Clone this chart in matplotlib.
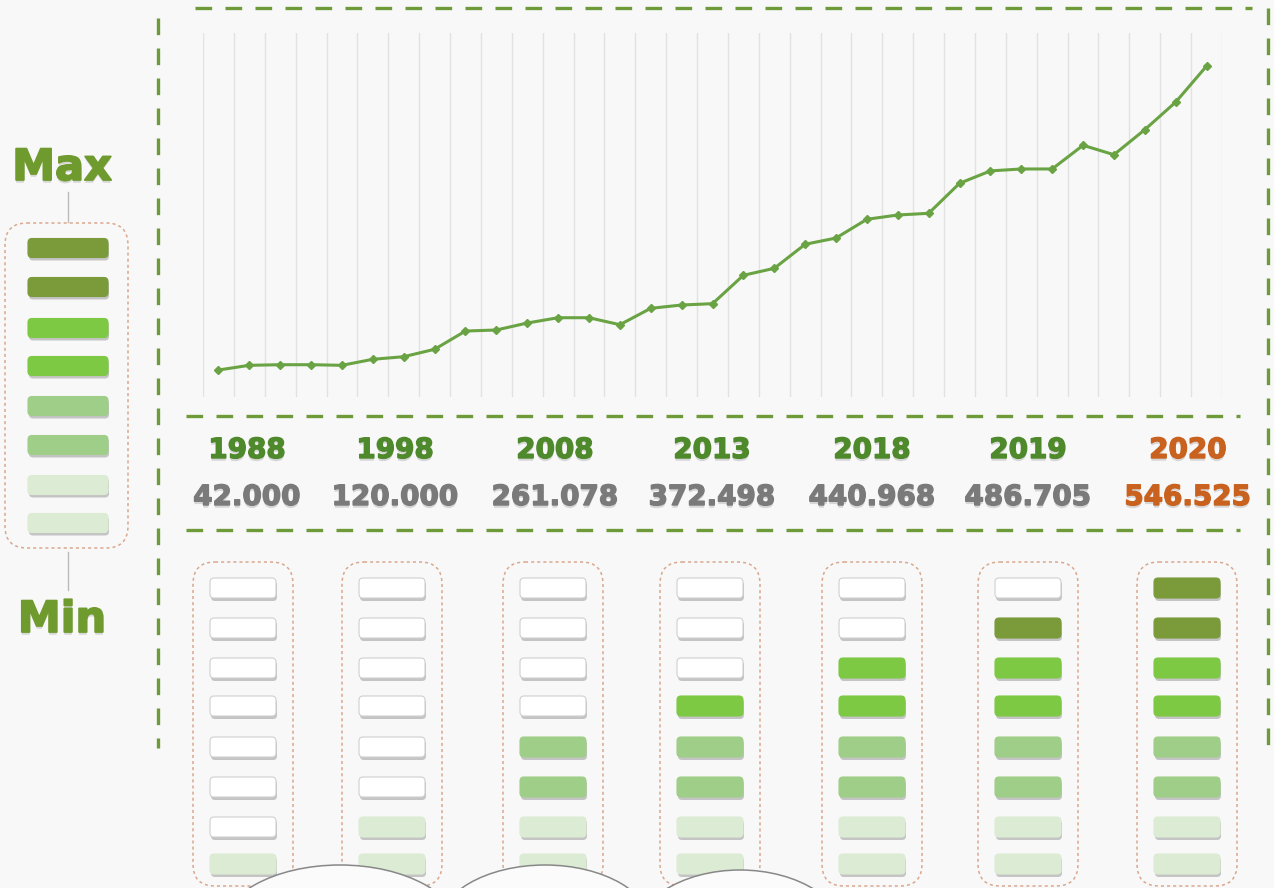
import numpy as np
import matplotlib.pyplot as plt
import matplotlib.patheffects as pe
from matplotlib.patches import FancyBboxPatch, Ellipse
from matplotlib.lines import Line2D

# data
years = list(range(1988, 2021))
values = [42.000, 49.8, 50.8, 50.8, 49.8, 59.8, 64.1, 76.4, 106.7, 108.4,
          120.000, 128.8, 128.8, 117.2, 144.4, 149.9, 152.1, 199.2, 210.8, 250.7,
          261.078, 292.2, 299.3, 302.1, 351.9, 372.498, 375.7, 375.7, 415.0, 399.4,
          440.968, 486.705, 546.525]
label_years = ["1988", "1998", "2008", "2013", "2018", "2019", "2020"]
label_values = ["42.000", "120.000", "261.078", "372.498", "440.968", "486.705", "546.525"]
levels = [1, 2, 4, 5, 6, 7, 8]   # filled cells per column, counted from the bottom

W, H = 1274, 888
BG = "#f8f8f8"
GREEN_DASH = "#6f9a3a"
LINE = "#6aa343"
YEAR_C = "#4e8a2c"
VAL_C = "#7a7a7a"
HILITE = "#c9621f"
ORANGE_DASH = "#d9a88e"
# cell colours from top row to bottom row
cell_colors = ["#7b9b3a", "#7b9b3a", "#7dc943", "#7dc943",
               "#9fce88", "#9fce88", "#dcebd3", "#dcebd3"]

fig = plt.figure(figsize=(W / 100, H / 100), dpi=100)
fig.patch.set_facecolor(BG)

bg = fig.add_axes([0, 0, 1, 1])
bg.set_xlim(0, W)
bg.set_ylim(H, 0)
bg.axis("off")
bg.set_facecolor(BG)

# ---- line chart ----
top_px, bot_px = 33, 397
x0_px, x1_px = 203, 1222
ax = fig.add_axes([x0_px / W, 1 - bot_px / H, (x1_px - x0_px) / W, (bot_px - top_px) / H])
ax.patch.set_alpha(0)
idx = np.arange(len(years))
ax.plot(idx, values, color=LINE, lw=2.2, marker="D", ms=4.5, mfc=LINE, mec=LINE, zorder=3)
ax.set_xlim(-0.5, len(years) - 0.5)
ax.set_ylim(-2.8, 601.4)
ax.set_xticks(np.arange(-0.5, len(years), 1))
ax.set_yticks([])
ax.grid(axis="x", color="#e2e2e2", lw=1)
ax.tick_params(length=0, labelbottom=False)
for s in ax.spines.values():
    s.set_visible(False)


def dash_line(xs, ys):
    bg.add_line(Line2D(xs, ys, color=GREEN_DASH, lw=2.4, linestyle=(0, (5, 4))))


dash_line([195, 1252], [8, 8])
dash_line([158, 158], [18, 748])
dash_line([1268, 1268], [8, 752])
dash_line([186, 1240], [416, 416])
dash_line([186, 1240], [530, 530])


def cell(cx, cy, w, h, color):
    sh = FancyBboxPatch((cx - w / 2 + 1, cy - h / 2 + 3), w, h,
                        boxstyle="round,pad=0,rounding_size=4",
                        fc="#9a9a9a", ec="none", alpha=0.55, zorder=2)
    bg.add_patch(sh)
    b = FancyBboxPatch((cx - w / 2, cy - h / 2), w, h,
                       boxstyle="round,pad=0,rounding_size=4",
                       fc=color, ec="#d0d0d0" if color == "white" else color,
                       lw=0.8, zorder=3)
    bg.add_patch(b)


def dashed_box(x, y, w, h):
    bx = FancyBboxPatch((x, y), w, h, boxstyle="round,pad=0,rounding_size=22",
                        fc="none", ec=ORANGE_DASH, lw=1.1, linestyle=(0, (2, 2)), zorder=1)
    bg.add_patch(bx)


def heavy(color, lw=1.0):
    # thicker glyphs plus a soft drop shadow
    return [pe.withSimplePatchShadow(offset=(0, -2), shadow_rgbFace="#999999", alpha=0.35),
            pe.Stroke(linewidth=lw, foreground=color), pe.Normal()]


# ---- legend Max / Min ----
bg.text(62, 168, "Max", ha="center", va="center", fontsize=31, fontweight="bold",
        color="#6f9a2e", path_effects=heavy("#6f9a2e", 1.3))
bg.text(62, 620, "Min", ha="center", va="center", fontsize=31, fontweight="bold",
        color="#6f9a2e", path_effects=heavy("#6f9a2e", 1.3))
bg.plot([68, 68], [192, 222], color="#bbbbbb", lw=1)
bg.plot([68, 68], [552, 590], color="#bbbbbb", lw=1)
dashed_box(5, 223, 123, 325)
legend_rows = [248, 287, 328, 366, 406, 445, 485, 523]
for cy, c in zip(legend_rows, cell_colors):
    cell(68, cy, 80, 19, c)

# ---- year / value labels ----
col_x = [243, 392, 553, 710, 872, 1028, 1187]
label_x = [247, 395, 555, 712, 872, 1028, 1188]
for i, (yr, val) in enumerate(zip(label_years, label_values)):
    last = i == len(label_years) - 1
    yc = HILITE if last else YEAR_C
    vc = HILITE if last else VAL_C
    bg.text(label_x[i], 450, yr, ha="center", va="center", fontsize=20, fontweight="bold",
            color=yc, path_effects=heavy(yc))
    bg.text(label_x[i], 497, val, ha="center", va="center", fontsize=20, fontweight="bold",
            color=vc, path_effects=heavy(vc))

# ---- level columns ----
row_y = [588, 628, 668, 706, 747, 787, 827, 864]
for cx, lv in zip(col_x, levels):
    dashed_box(cx - 50, 562, 100, 324)
    for r, cy in enumerate(row_y):
        filled = (len(row_y) - r) <= lv
        cell(cx, cy, 66, 20, cell_colors[r] if filled else "white")

# ---- bubbles at the bottom edge ----
for cx, cy, w, h in [(740, 940, 215, 140), (545, 928, 215, 126), (340, 932, 240, 134)]:
    bg.add_patch(Ellipse((cx, cy), w, h, fc="#fbfbfb", ec="#888888", lw=1.1, zorder=5))

fig.savefig("out.png", dpi=100, facecolor=BG)
